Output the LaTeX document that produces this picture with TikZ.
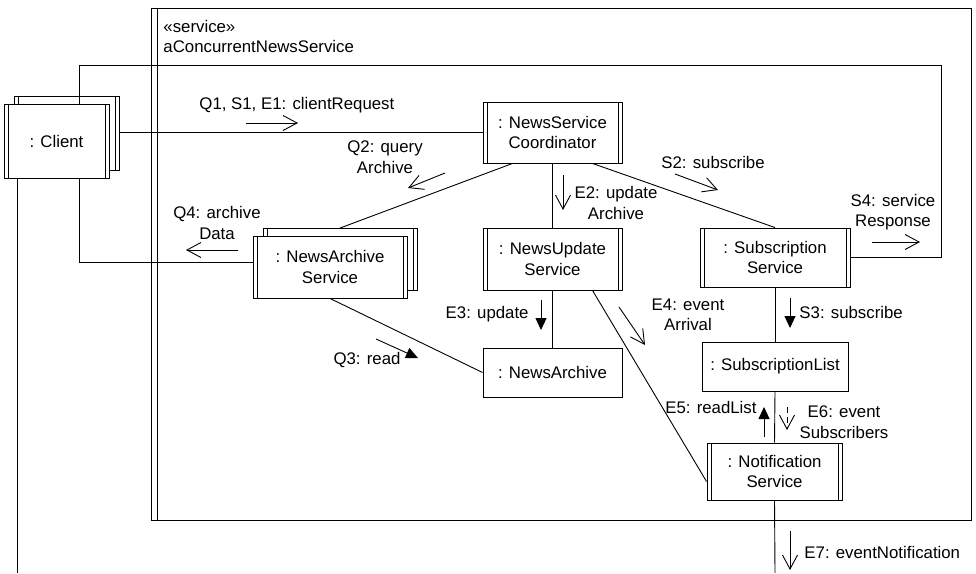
\documentclass[tikz,border=0pt]{standalone}
\usepackage{fontspec}
\setmainfont{Liberation Sans}
\usetikzlibrary{arrows.meta}

\tikzset{
  objbox/.style={
    draw,
    fill=white,
    inner sep=0pt,
    align=center,
  },
  activebox/.style={
    objbox,
    path picture={
      \draw ([xshift=4pt]path picture bounding box.north west)
        -- ([xshift=4pt]path picture bounding box.south west);
      \draw ([xshift=-4pt]path picture bounding box.north east)
        -- ([xshift=-4pt]path picture bounding box.south east);
    },
  },
  msg/.style={-{Straight Barb[length=14pt,width=15pt]}},
  syncmsg/.style={-{Triangle[length=12pt,width=11pt]}},
  replymsg/.style={msg, dash pattern=on 6pt off 4pt},
  lbl/.style={align=center, inner sep=0pt},
}
\newcommand{\activeobj}[6]{%
  \node[activebox, minimum width=#4pt, minimum height=#5pt] (#1) at (#2,#3) {#6};
}
\newcommand{\multiobj}[6]{%
  \node[activebox, minimum width=#4pt, minimum height=#5pt] (#1back) at (#2+10,#3-7.5) {};
  \node[activebox, minimum width=#4pt, minimum height=#5pt] (#1) at (#2,#3) {#6};
}
\newcommand{\passiveobj}[6]{%
  \node[objbox, minimum width=#4pt, minimum height=#5pt] (#1) at (#2,#3) {#6};
}

\begin{document}
\begin{tikzpicture}[x=1pt, y=-1pt, line width=0.9pt,
  every node/.style={font=\fontsize{16.8}{20.5}\selectfont}]

\useasboundingbox (0,0) rectangle (976,573);

% composite service
\node[draw, minimum width=820pt, minimum height=512pt, inner sep=0pt] (svc) at (561,264) {};
\draw ([xshift=7pt]svc.north west) -- ([xshift=7pt]svc.south west);
\node[lbl, anchor=west] (stereo) at (163,26) {«service»};
\node[lbl, anchor=west] (svcname) at (163,46) {aConcurrentNewsService};

\coordinate (loopNE) at (941,65);
\coordinate (cliTop) at (79,104);
\coordinate (cliOut) at (17,573);
\coordinate (notifOut) at (775,573);

% objects
\multiobj{client}{56.5}{141}{105}{74}{: Client}
\activeobj{coord}{552.5}{132.5}{139}{61}{: NewsService\\Coordinator}
\multiobj{archsvc}{330}{267}{154}{62}{: NewsArchive\\Service}
\activeobj{updsvc}{552.5}{259}{139}{62}{: NewsUpdate\\Service}
\activeobj{subsvc}{775}{257.5}{150}{59}{: Subscription\\Service}
\passiveobj{archive}{552.5}{372.5}{139}{49}{: NewsArchive}
\passiveobj{sublist}{775}{366.5}{146}{49}{: SubscriptionList}
\activeobj{notif}{774.5}{471.5}{135}{57}{: Notification\\Service}

% links
\draw (coord.west) -- (coord.west -| clientback.east);
\draw (subsvc.east) -| (loopNE) -| (cliTop);
\draw (cliTop |- client.south) |- ([yshift=5pt]archsvc.west);
\draw (cliOut |- client.south) -- (cliOut);
\draw ([xshift=-40pt]coord.south) -- (archsvcback.north);
\draw (coord.south) -- (updsvc.north);
\draw ([xshift=40pt]coord.south) -- (subsvc.north);
\draw (archsvc.south) -- (archive.west);
\draw (updsvc.south) -- (archive.north);
\draw ([xshift=40pt]updsvc.south) -- ([yshift=-10pt]notif.west);
\draw (subsvc.south) -- (sublist.north);
\draw (sublist.south) -- (notif.north);
\draw (notif.south) -- (notifOut);

% messages
\node[lbl, anchor=west] (q1) at (199,105) {Q1, S1, E1: clientRequest};
\draw[msg] (246,123) -- (298,123);
\node[lbl] (q2) at (385,157) {Q2: query\\Archive};
\draw[msg] (445,173) -- (408,188);
\node[lbl] (q4) at (217,223) {Q4: archive\\Data};
\draw[msg] (238,250) -- (186,250);
\node[lbl] (e2) at (616,203) {E2: update\\Archive};
\draw[msg] (563,175) -- (563,210);
\node[lbl] (s2) at (713,162) {S2: subscribe};
\draw[msg] (675,174) -- (718,190);
\node[lbl] (s4) at (893,212) {S4: service\\Response};
\draw[msg] (872,242) -- (920,242);
\node[lbl, anchor=east] (e3) at (529,314) {E3: update};
\draw[syncmsg] (541,300) -- (541,330);
\node[lbl] (q3) at (367,360) {Q3: read};
\draw[syncmsg] (376,339) -- (418,358);
\node[lbl] (e4) at (688,315) {E4: event\\Arrival};
\draw[msg] (619,307) -- (645,345);
\node[lbl, anchor=west] (s3) at (799,312) {S3: subscribe};
\draw[syncmsg] (790,298) -- (790,328);
\node[lbl, anchor=east] (e5) at (757,407) {E5: readList};
\draw[syncmsg] (764,437) -- (764,407);
\node[lbl] (e6) at (844,422) {E6: event\\Subscribers};
\draw[replymsg] (787,407) -- (787,430);
\node[lbl, anchor=west] (e7) at (804,552) {E7: eventNotification};
\draw[msg] (790,531) -- (790,570);

\end{tikzpicture}
\end{document}
